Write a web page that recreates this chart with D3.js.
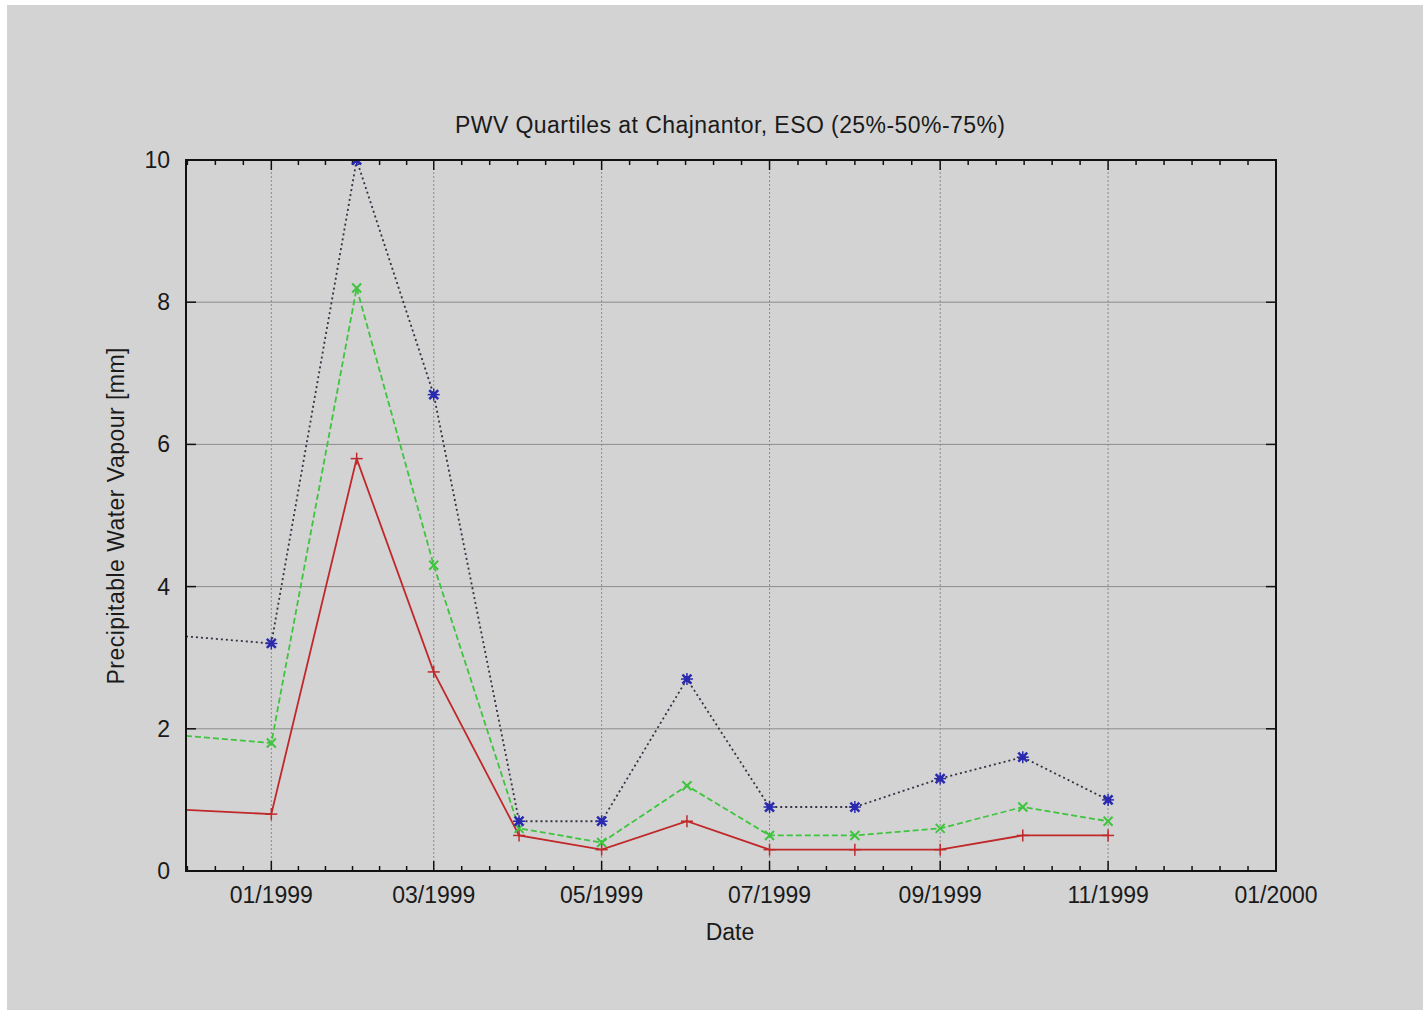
<!DOCTYPE html>
<html>
<head>
<meta charset="utf-8">
<script src="https://cdn.jsdelivr.net/npm/d3@7"></script>
<style>
  body { margin: 0; background: #ffffff; }
  text { font-family: "Liberation Sans", Arial, sans-serif; fill: #1a1a1a; }
</style>
</head>
<body>
<div id="chart"></div>
<script>
// monthly quartiles of PWV [mm]
const months = ["1998-12-01", "1999-01-01", "1999-02-01", "1999-03-01", "1999-04-01", "1999-05-01",
	"1999-06-01", "1999-07-01", "1999-08-01", "1999-09-01", "1999-10-01", "1999-11-01"];
const q25 = [0.86, 0.8, 5.8, 2.8, 0.5, 0.3, 0.7, 0.3, 0.3, 0.3, 0.5, 0.5];
const q50 = [1.9, 1.8, 8.2, 4.3, 0.6, 0.4, 1.2, 0.5, 0.5, 0.6, 0.9, 0.7];
const q75 = [3.3, 3.2, 10.0, 6.7, 0.7, 0.7, 2.7, 0.9, 0.9, 1.3, 1.6, 1.0];
const yTicks = [0, 2, 4, 6, 8, 10];
const xTickDates = ["1999-01-01", "1999-03-01", "1999-05-01", "1999-07-01", "1999-09-01", "1999-11-01", "2000-01-01"];

const parse = d3.timeParse("%Y-%m-%d");

let W = 1423, H = 1010;
let margin = { top: 160, right: 147, bottom: 139, left: 186 };
let width = W - margin.left - margin.right;
let height = H - margin.top - margin.bottom;

let svg = d3.select("#chart").append("svg")
	.attr("width", W)
	.attr("height", H);

// gray page with thin white strip top/left
svg.append("rect")
	.attr("x", 7).attr("y", 5)
	.attr("width", W - 7).attr("height", H - 5)
	.attr("fill", "#d3d3d3");

let g = svg.append("g")
	.attr("transform", "translate(" + margin.left + "," + margin.top + ")");

let x = d3.scaleTime()
	.domain([parse("1998-12-01"), parse("2000-01-01")])
	.range([0, width]);

let y = d3.scaleLinear()
	.domain([0, 10])
	.range([height, 0]);

g.append("defs").append("clipPath").attr("id", "clip")
	.append("rect").attr("width", width).attr("height", height);

// grid
g.selectAll(".hgrid").data(yTicks.filter(d => d > 0 && d < 10))
	.enter().append("line")
	.attr("x1", 0).attr("x2", width)
	.attr("y1", d => y(d)).attr("y2", d => y(d))
	.attr("stroke", "#8c8c8c").attr("stroke-width", 1);

let majorDates = xTickDates.map(parse);
g.selectAll(".vgrid").data(majorDates.filter(d => x(d) < width - 1))
	.enter().append("line")
	.attr("x1", d => x(d)).attr("x2", d => x(d))
	.attr("y1", 0).attr("y2", height)
	.attr("stroke", "#8c8c8c").attr("stroke-width", 1)
	.attr("stroke-dasharray", "2,2");

// minor x ticks: 5 between each pair of majors (including the interval before 01/1999)
let allMajors = [parse("1998-11-01")].concat(majorDates);
let minors = [];
for (let i = 0; i < allMajors.length - 1; i++) {
	let a = +allMajors[i], b = +allMajors[i + 1];
	for (let k = 1; k < 6; k++) {
		let t = new Date(a + (b - a) * k / 6);
		if (x(t) > 0 && x(t) < width) minors.push(t);
	}
}

let tickColor = "#111";
// bottom + top major/minor ticks (pointing inward)
[0, height].forEach(function (yy) {
	let dir = yy === 0 ? 1 : -1;
	g.selectAll(null).data(majorDates).enter().append("line")
		.attr("x1", d => x(d)).attr("x2", d => x(d))
		.attr("y1", yy).attr("y2", yy + dir * 10)
		.attr("stroke", tickColor).attr("stroke-width", 1.5);
	g.selectAll(null).data(minors).enter().append("line")
		.attr("x1", d => x(d)).attr("x2", d => x(d))
		.attr("y1", yy).attr("y2", yy + dir * 5)
		.attr("stroke", tickColor).attr("stroke-width", 1.5);
});
// left + right y ticks
[0, width].forEach(function (xx) {
	let dir = xx === 0 ? 1 : -1;
	g.selectAll(null).data(yTicks).enter().append("line")
		.attr("x1", xx).attr("x2", xx + dir * 10)
		.attr("y1", d => y(d)).attr("y2", d => y(d))
		.attr("stroke", tickColor).attr("stroke-width", 1.5);
});

// tick labels
let fmt = d3.timeFormat("%m/%Y");
g.selectAll(".xlab").data(majorDates).enter().append("text")
	.attr("x", d => x(d)).attr("y", height + 32)
	.attr("text-anchor", "middle")
	.style("font-size", "23px")
	.text(d => fmt(d));

g.selectAll(".ylab").data(yTicks).enter().append("text")
	.attr("x", -16).attr("y", d => y(d) + 8)
	.attr("text-anchor", "end")
	.style("font-size", "23px")
	.text(d => d);

// series
let series = [
	{ values: q25, color: "#c0282a", dash: null, lineColor: "#c0282a", marker: "plus" },
	{ values: q50, color: "#3ec43e", dash: "6,3", lineColor: "#3ec43e", marker: "cross" },
	{ values: q75, color: "#2a2ab0", dash: "2,3", lineColor: "#333344", marker: "star" }
];

let dates = months.map(parse);
let line = d3.line()
	.x(d => x(d.date))
	.y(d => y(d.value));

let plot = g.append("g").attr("clip-path", "url(#clip)");

series.forEach(function (s) {
	let pts = dates.map((d, i) => ({ date: d, value: s.values[i] }));
	plot.append("path")
		.datum(pts)
		.attr("fill", "none")
		.attr("stroke", s.lineColor)
		.attr("stroke-width", 1.8)
		.attr("stroke-dasharray", s.dash)
		.attr("d", line);

	let m = plot.selectAll(null).data(pts.slice(1)).enter().append("g")
		.attr("transform", d => "translate(" + x(d.date) + "," + y(d.value) + ")");
	let r = 6;
	if (s.marker === "plus" || s.marker === "star") {
		m.append("line").attr("x1", -r).attr("x2", r).attr("y1", 0).attr("y2", 0)
			.attr("stroke", s.color).attr("stroke-width", 1.5);
		m.append("line").attr("x1", 0).attr("x2", 0).attr("y1", -r).attr("y2", r)
			.attr("stroke", s.color).attr("stroke-width", 1.5);
	}
	if (s.marker === "cross" || s.marker === "star") {
		m.append("line").attr("x1", -r * 0.75).attr("x2", r * 0.75).attr("y1", -r * 0.75).attr("y2", r * 0.75)
			.attr("stroke", s.color).attr("stroke-width", s.marker === "star" ? 2.5 : 2);
		m.append("line").attr("x1", -r * 0.75).attr("x2", r * 0.75).attr("y1", r * 0.75).attr("y2", -r * 0.75)
			.attr("stroke", s.color).attr("stroke-width", s.marker === "star" ? 2.5 : 2);
	}
	if (s.marker === "star") {
		m.append("circle").attr("r", 3).attr("fill", s.color);
	}
});

// frame
g.append("rect")
	.attr("width", width).attr("height", height)
	.attr("fill", "none")
	.attr("stroke", "#111")
	.attr("stroke-width", 2);

// title and axis labels
svg.append("text")
	.attr("x", 730)
	.attr("y", 133)
	.attr("text-anchor", "middle")
	.style("font-size", "23px")
	.attr("textLength", 550)
	.text("PWV Quartiles at Chajnantor, ESO (25%-50%-75%)");

svg.append("text")
	.attr("x", 730)
	.attr("y", 940)
	.attr("text-anchor", "middle")
	.style("font-size", "23px")
	.text("Date");

svg.append("text")
	.attr("transform", "translate(124,516) rotate(-90)")
	.attr("text-anchor", "middle")
	.style("font-size", "23px")
	.attr("textLength", 337)
	.text("Precipitable Water Vapour [mm]");
</script>
</body>
</html>
